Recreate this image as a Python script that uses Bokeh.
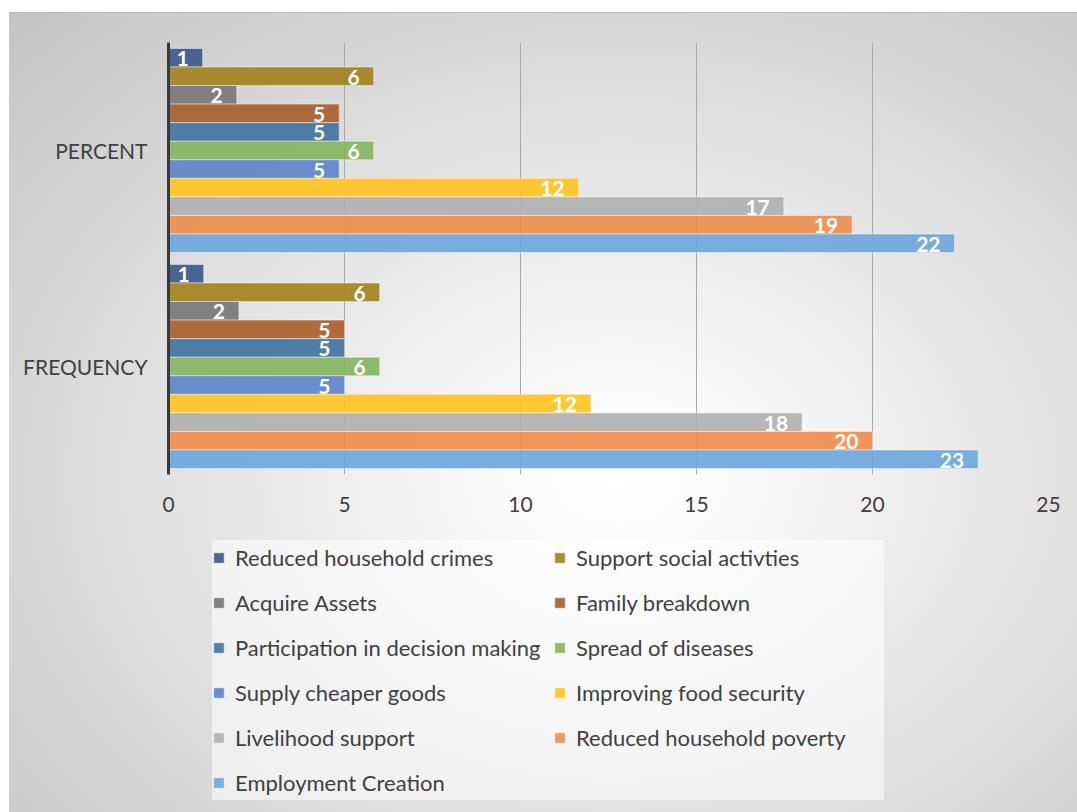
from bokeh.plotting import figure
from bokeh.layouts import column
from bokeh.models import FactorRange, Range1d, FixedTicker, ColumnDataSource, Legend, LegendItem
from bokeh.transform import dodge
from bokeh.core.properties import value
from bokeh.embed import file_html
from bokeh.resources import INLINE

categories = ["FREQUENCY", "PERCENT"]
series = [
    "Reduced household crimes", "Support social activties", "Acquire Assets",
    "Family breakdown", "Participation in decision making", "Spread of diseases",
    "Supply cheaper goods", "Improving food security", "Livelihood support",
    "Reduced household poverty", "Employment Creation",
]
frequency = [1, 6, 2, 5, 5, 6, 5, 12, 18, 20, 23]
percent = [0.97, 5.83, 1.94, 4.85, 4.85, 5.83, 4.85, 11.65, 17.48, 19.42, 22.33]
colors = ["#3e5a8c", "#a48220", "#787878", "#a85f2d", "#43749f", "#84b560",
          "#5e84ca", "#fec424", "#b1b1b1", "#ef8f4e", "#6fa7db"]
x_ticks = [0, 5, 10, 15, 20, 25]

FONT = "Lato"
TXT = "#404040"
GRAD = "radial-gradient(ellipse farthest-corner at 57% 58%, #ffffff 0%, #fbfbfb 12%, #c4c4c4 100%)"


def bg_styles(offset_y):
    return {
        "background-color": "white",
        "background-image": "linear-gradient(#b9b9b9, #b9b9b9), " + GRAD,
        "background-position": f"9px {offset_y}px, 9px {offset_y}px",
        "background-size": "1068px 1px, 1068px 800px",
        "background-repeat": "no-repeat, no-repeat",
    }


# ---------------- main chart ----------------
p = figure(width=1077, height=520,
           y_range=FactorRange(factors=categories), x_range=Range1d(0, 25),
           output_backend="svg", toolbar_location=None,
           min_border_left=168, min_border_right=29,
           min_border_top=42, min_border_bottom=46)
p.border_fill_color = None
p.background_fill_color = None
p.outline_line_color = None
p.styles = bg_styles(12)

n = len(series)
bw = 0.0859
sources = []
for i, name in enumerate(series):
    vals = [frequency[i], percent[i]]
    src = ColumnDataSource(dict(cat=categories, val=vals,
                                lab=[str(int(round(v))) for v in vals]))
    sources.append(src)
    off = ((n - 1) / 2 - i) * bw
    y = dodge("cat", off, range=p.y_range)
    p.hbar(y=y, left=0, right="val", height=bw, source=src,
           fill_color=colors[i], fill_alpha=0.92,
           line_color="white", line_alpha=0.45, line_width=1)
    p.text(x="val", y=y, text="lab", source=src, text_align="right",
           text_baseline="middle", x_offset=-14, y_offset=1, text_color="white",
           text_font=value(FONT), text_font_style="bold", text_font_size="21px")

p.ygrid.grid_line_color = None
p.xgrid.ticker = FixedTicker(ticks=x_ticks)
p.xgrid.grid_line_color = "#a8a8a8"
p.xgrid.grid_line_width = 1

xa = p.xaxis[0]
xa.ticker = FixedTicker(ticks=x_ticks)
xa.axis_line_color = None
xa.major_tick_line_color = None
xa.minor_tick_line_color = None
xa.major_tick_out = 0
xa.major_tick_in = 0
xa.major_label_standoff = 22
xa.major_label_text_font = FONT
xa.major_label_text_font_size = "21px"
xa.major_label_text_color = TXT

ya = p.yaxis[0]
ya.axis_line_color = "#3a3a3a"
ya.axis_line_width = 3
ya.major_tick_line_color = None
ya.minor_tick_line_color = None
ya.major_tick_out = 0
ya.major_tick_in = 0
ya.major_label_standoff = 21
ya.major_label_text_font = FONT
ya.major_label_text_font_size = "21px"
ya.major_label_text_color = TXT

# ---------------- legend panel ----------------
q = figure(width=1077, height=292, x_range=Range1d(0, 25),
           y_range=FactorRange(factors=categories),
           x_axis_type=None, y_axis_type=None,
           output_backend="svg", toolbar_location=None, min_border=0)
q.border_fill_color = None
q.background_fill_color = None
q.outline_line_color = None
q.grid.visible = False
q.styles = bg_styles(12 - 520)

items = []
for i, name in enumerate(series):
    r = q.hbar(y="cat", left=0, right="val", height=bw, source=sources[i],
               fill_color=colors[i], fill_alpha=0.92,
               line_color="white", line_alpha=0.45, line_width=1)
    r.visible = False  # legend swatches only
    items.append(LegendItem(label=name, renderers=[r]))

leg = Legend(items=items, location=(44, 12), orientation="horizontal", ncols=2)
leg.label_text_font = FONT
leg.label_text_font_size = "22px"
leg.label_text_color = TXT
leg.glyph_width = 13
leg.glyph_height = 13
leg.label_standoff = 10
leg.label_height = 35
leg.label_width = 308
leg.spacing = 10
leg.padding = 5
leg.margin = 0
leg.inactive_fill_alpha = 0
leg.background_fill_color = "white"
leg.background_fill_alpha = 0.55
leg.border_line_color = None
q.add_layout(leg, "center")

layout = column(p, q, spacing=0)
open("out.html", "w").write(file_html(layout, INLINE))
